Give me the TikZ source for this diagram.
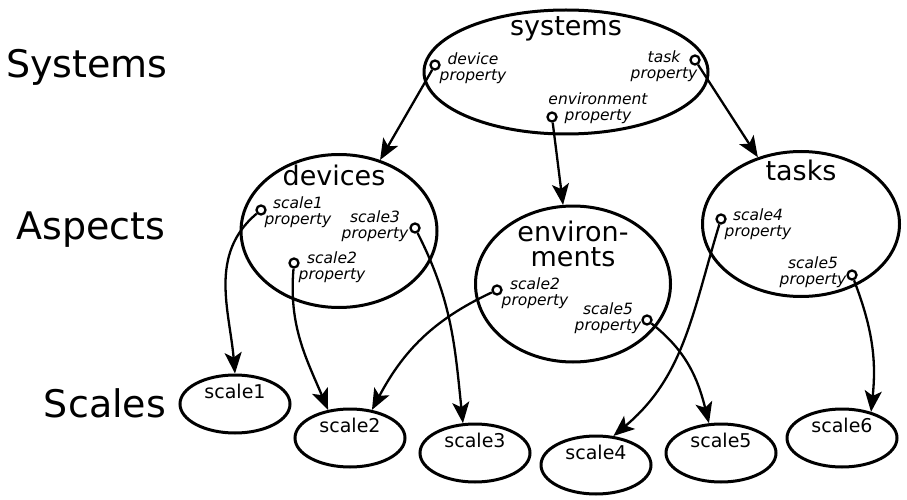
\documentclass[tikz,border=0pt]{standalone}
\usepackage{fontspec}
\setmainfont{DejaVu Sans}
\usetikzlibrary{shapes.geometric}
\usetikzlibrary{arrows.meta}

\begin{document}
\begin{tikzpicture}[x=1pt, y=-1pt,
    blob/.style={ellipse, draw, line width=3pt, inner sep=0pt},
    ttl/.style={anchor=base, font=\fontsize{27}{25}\selectfont},
    scl/.style={blob, minimum width=110pt, minimum height=58pt,
        label={[anchor=base, yshift=-25pt, font=\fontsize{19}{19}\selectfont]north:#1}},
    rowlbl/.style={anchor=base, font=\fontsize{38}{38}\selectfont},
    prop/.style={inner sep=0pt, align=center, font=\itshape\fontsize{15.5}{16}\selectfont},
    hole/.style={circle, draw, line width=2.3pt, fill=white, inner sep=0pt, minimum size=9pt},
    link/.style={line width=2.3pt, -{Stealth[length=21pt,width=17pt,inset=5pt]}}]
        \useasboundingbox (0,0) rectangle (907,500);

        % Levels
        \node[rowlbl] (lsys) at (87,78) {Systems};
        \node[rowlbl] (lasp) at (91,239) {Aspects};
        \node[rowlbl] (lscl) at (105,417) {Scales};

        % Systems
        \node[blob, minimum width=284pt, minimum height=124pt,
            label={[ttl, yshift=-27pt]north:systems}] (systems) at (566,72) {};
        \node[prop] (sysdevtxt) at (473,68) {device\\property};
        \node[prop] (systasktxt) at (664,66) {task\\property};
        \node[prop] (sysenvtxt) at (598,108) {environment\\property};
        \node[hole] (sysdev) at (435,65) {};
        \node[hole] (systask) at (695,60) {};
        \node[hole] (sysenv) at (552,117) {};

        % Aspects
        \node[blob, minimum width=196pt, minimum height=153pt,
            label={[ttl, yshift=-32pt, xshift=-5pt]north:devices}] (devices) at (339,231) {};
        \node[blob, minimum width=195pt, minimum height=156pt,
            label={[ttl, anchor=center, align=center, yshift=-39pt]north:{environ-\\ments}}] (environments) at (573,284) {};
        \node[blob, minimum width=197pt, minimum height=145pt,
            label={[ttl, yshift=-30pt]north:tasks}] (tasks) at (801,224) {};

        \node[prop] (dev1txt) at (298,212) {scale1\\property};
        \node[prop] (dev3txt) at (375,226) {scale3\\property};
        \node[prop] (dev2txt) at (332,267) {scale2\\property};
        \node[prop] (env2txt) at (535,293) {scale2\\property};
        \node[prop] (env5txt) at (608,318) {scale5\\property};
        \node[prop] (task4txt) at (758,224) {scale4\\property};
        \node[prop] (task5txt) at (813,272) {scale5\\property};

        \node[hole] (dev1) at (261,210) {};
        \node[hole] (dev3) at (415,228) {};
        \node[hole] (dev2) at (294,263) {};
        \node[hole] (env2) at (497,290) {};
        \node[hole] (env5) at (647,320) {};
        \node[hole] (task4) at (721,219) {};
        \node[hole] (task5) at (852,275) {};

        % Scales
        \node[scl=scale1] (scale1) at (235,404) {};
        \node[scl=scale2] (scale2) at (350,438) {};
        \node[scl=scale3] (scale3) at (475,453) {};
        \node[scl=scale4] (scale4) at (596,465) {};
        \node[scl=scale5] (scale5) at (721,453) {};
        \node[scl=scale6] (scale6) at (842,438) {};

        % Links
        \draw[link] (sysdev) -- (devices);
        \draw[link] (sysenv) -- (environments);
        \draw[link] (systask) -- (tasks);
        \draw[link] (dev1) to[out=220,in=95] (scale1.north);
        \draw[link] (dev2) to[out=265,in=113] (scale2.128);
        \draw[link] (dev3) to[out=297,in=96] (scale3.112);
        \draw[link] (env2) to[out=205,in=62] (scale2.52);
        \draw[link] (env5) to[out=322,in=104] (scale5.112);
        \draw[link] (task4) to[out=253,in=40] (scale4.59);
        \draw[link] (task5) to[out=291,in=84] (scale6.42);
    \end{tikzpicture}
\end{document}
